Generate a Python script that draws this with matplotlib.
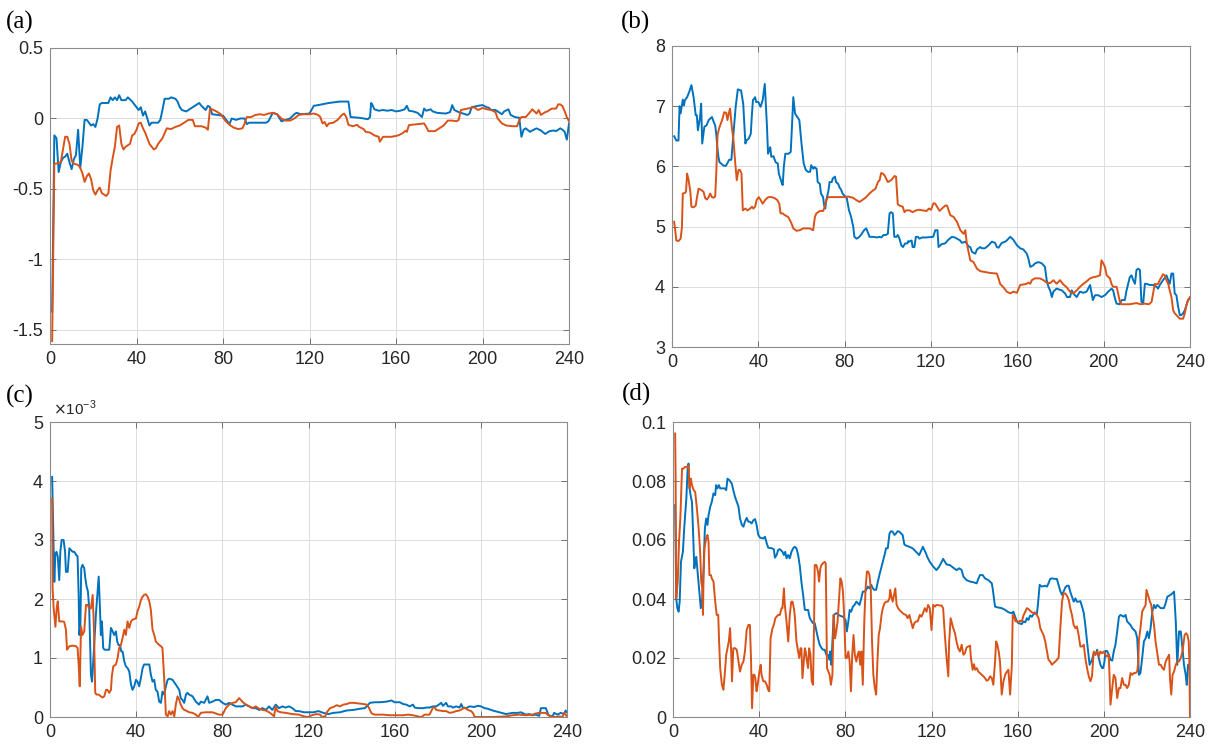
import matplotlib
matplotlib.use("Agg")
import matplotlib.pyplot as plt
from matplotlib.ticker import FuncFormatter

plt.rcParams["font.family"] = ["Liberation Sans", "DejaVu Sans"]
plt.rcParams["axes.unicode_minus"] = False

BLUE = "#0072BD"
ORANGE = "#D95319"

# (a) series, (x, value) points
a_blue = [(1, -1.37), (2, -0.12), (3, -0.14), (4, -0.38), (5, -0.31), (6, -0.28), (7, -0.27), (8, -0.25),
          (9, -0.31), (10, -0.36), (11, -0.29), (12, -0.26), (13, -0.08), (14, -0.35), (15, -0.2), (16, -0.01),
          (17, -0.01), (18, -0.03), (19, -0.05), (20, -0.04), (21, -0.06), (22, 0.0), (23, 0.10), (24, 0.11),
          (27, 0.11), (28, 0.15), (29, 0.13), (30, 0.15), (31, 0.13), (32, 0.165), (33, 0.13), (35, 0.13),
          (36, 0.15), (38, 0.12), (40, 0.08), (41, 0.06), (42, 0.08), (43, 0.02), (44, 0.05), (45, 0.0),
          (46, -0.05), (47, -0.03), (50, -0.03), (51, -0.01), (52, 0.06), (53, 0.14), (55, 0.14), (56, 0.15),
          (58, 0.14), (59, 0.12), (60, 0.08), (61, 0.06), (63, 0.05), (65, 0.07), (67, 0.09), (69, 0.11),
          (70, 0.09), (72, 0.06), (73, 0.09), (74, 0.08), (75, 0.03), (80, 0.02), (82, -0.02), (83, -0.04),
          (84, 0.0), (86, -0.01), (88, 0.0), (90, 0.0), (91, -0.04), (92, -0.03), (96, -0.03), (100, -0.03),
          (101, -0.02), (103, 0.04), (105, 0.03), (107, -0.02), (109, -0.01), (111, 0.0), (113, 0.03),
          (114, 0.04), (116, 0.03), (120, 0.035),
          (122, 0.09), (124, 0.095), (129, 0.11), (134, 0.12), (138, 0.12), (139, 0.01), (143, 0.005),
          (147, -0.005), (148, 0.01), (148.5, 0.11), (149, 0.10), (150, 0.065), (152, 0.055), (154, 0.06),
          (156, 0.055), (158, 0.06), (160, 0.05), (162, 0.055), (164, 0.065), (165, 0.09), (166, 0.055),
          (168, 0.05), (170, 0.04), (172, 0.01), (173, 0.07), (174, 0.055), (176, 0.065), (177, 0.05),
          (179, 0.04), (183, 0.035), (185, 0.045), (186, 0.095), (187, 0.06), (189, 0.045), (191, 0.035),
          (193, 0.025), (194, 0.035), (195, 0.08), (198, 0.09), (200, 0.095), (202, 0.08), (203, 0.075),
          (204, 0.06), (206, 0.06), (207, 0.05), (209, 0.03), (210, 0.05), (212, 0.065), (213, 0.025),
          (215, 0.01), (217, 0.005), (218, -0.13), (219, -0.08), (220, -0.07), (222, -0.095), (223, -0.085),
          (225, -0.07), (227, -0.085), (229, -0.11), (231, -0.09), (233, -0.085), (234, -0.09), (236, -0.07),
          (237, -0.08), (238, -0.095), (239, -0.15), (240, -0.035)]
a_orange = [(1, -1.58), (2, -0.32), (3, -0.32), (5, -0.31), (6, -0.22), (7, -0.13), (8, -0.13), (9, -0.18),
            (10, -0.30), (11, -0.32), (13, -0.33), (14, -0.35), (15, -0.39), (16, -0.45), (17, -0.41),
            (18, -0.39), (19, -0.43), (20, -0.51), (21, -0.54), (22, -0.51), (23, -0.49), (24, -0.53),
            (25, -0.54), (26, -0.55), (27, -0.53), (28, -0.37), (29, -0.28), (30, -0.2), (31, -0.06),
            (32, -0.05), (33, -0.18), (34, -0.22), (35, -0.2), (37, -0.18), (38, -0.12), (39, -0.11),
            (40, -0.08), (41, -0.035), (42, -0.03), (43, -0.07), (44, -0.1), (46, -0.18), (48, -0.22),
            (49, -0.21), (50, -0.18), (52, -0.14), (54, -0.07), (56, -0.075), (58, -0.06), (60, -0.05),
            (62, -0.03), (64, -0.01), (66, -0.01), (67, -0.055), (70, -0.055), (72, -0.065), (73, -0.08),
            (74, 0.07), (75, 0.065), (77, 0.05), (79, 0.03), (81, -0.015), (83, -0.045), (85, -0.065),
            (87, -0.075), (89, -0.07), (90, -0.035), (91, 0.01), (93, 0.01), (95, 0.025), (97, 0.03),
            (99, 0.025), (101, 0.035), (103, 0.04), (105, 0.03), (107, 0.0), (109, -0.015), (111, -0.015),
            (113, 0.0), (115, 0.025), (117, 0.03), (120, 0.03),
            (122, 0.035), (124, 0.025), (125, 0.01), (126, -0.035), (127, -0.025), (128, -0.055),
            (129, -0.035), (131, -0.03), (133, -0.01), (135, 0.025), (136, 0.035), (137, 0.01), (138, -0.045),
            (140, -0.055), (142, -0.045), (143, -0.06), (145, -0.075), (146, -0.095), (148, -0.1),
            (150, -0.12), (152, -0.13), (152.5, -0.165), (154, -0.13), (158, -0.13), (161, -0.12),
            (163, -0.105), (164.5, -0.087), (165, -0.095), (166, -0.047), (170, -0.04), (173, -0.035),
            (174, -0.06), (175, -0.09), (178, -0.09), (180, -0.07), (182, -0.05), (184, -0.015),
            (186, -0.015), (188, -0.02), (189, -0.01), (190, 0.06), (193, 0.07), (196, 0.08), (198, 0.06),
            (200, 0.075), (202, 0.065), (204, 0.06), (206, 0.045), (207, 0.0), (209, -0.035), (211, -0.05),
            (214, -0.055), (216, -0.055), (217, -0.01), (218, 0.01), (220, 0.01), (222, 0.045), (223, 0.065),
            (225, 0.035), (226, 0.06), (227, 0.025), (229, 0.045), (230, 0.05), (232, 0.07), (234, 0.07),
            (235, 0.1), (236, 0.1), (237, 0.087), (238, 0.05), (239, 0.01), (240, -0.02)]

# (b)
b_blue = [(1, 6.50), (2, 6.43), (3, 6.43), (3.5, 7.0), (4, 6.88), (5, 7.11), (5.5, 7.01), (6, 7.10), (7, 7.15),
          (8, 7.24), (9, 7.35), (10, 7.15), (11, 6.85), (11.5, 6.85), (12, 6.60), (13, 6.82), (13.5, 7.04),
          (14, 6.38), (15, 6.66), (16, 6.68), (17, 6.77), (18.5, 6.82), (19, 6.77), (20, 6.68), (20.5, 6.54),
          (21, 6.32), (21.5, 6.16), (22, 6.07), (24, 6.01), (25, 6.01), (26.5, 6.11), (27.5, 6.11),
          (28.5, 6.54), (29.5, 6.99), (30.5, 7.28), (32, 7.26), (33, 7.04), (33.5, 6.71), (34, 6.38),
          (34.5, 6.43), (35.5, 6.46), (36.5, 6.54), (37, 6.85), (37.5, 7.10), (38.5, 7.15), (39, 7.07),
          (40, 7.07), (41, 6.99), (41.5, 7.04), (42, 7.10), (43, 7.37), (44, 6.66), (44.5, 6.21),
          (45.5, 6.32), (46, 6.16), (47, 6.17), (48, 6.07), (49, 6.05), (49.5, 5.88), (51, 5.71),
          (51.3, 5.69), (51.8, 5.99), (52.5, 6.21), (54, 6.21), (55, 6.24), (55.5, 6.60), (56.2, 7.15),
          (57, 6.88), (57.5, 6.85), (59, 6.77), (60, 6.38), (61, 6.05), (62, 5.94), (63, 5.91), (64, 5.91),
          (64.5, 6.02), (65.5, 5.96), (66, 5.99), (67, 5.96), (67.5, 5.74), (68.5, 5.71), (69, 5.55),
          (70, 5.49), (70.5, 5.35), (71, 5.30), (71.5, 5.44), (72.5, 5.60), (73, 5.74), (74, 5.74),
          (74.5, 5.80), (75.5, 5.83), (76, 5.74), (77, 5.71), (77.5, 5.66), (78.5, 5.60), (79, 5.55),
          (80.5, 5.49), (81, 5.47), (82, 5.27), (83, 5.16), (84, 4.99), (84.5, 4.83), (85.5, 4.80),
          (86.5, 4.82), (87.5, 4.86), (89, 4.94), (90, 4.97), (91, 4.88), (91.5, 4.83), (93, 4.83),
          (95, 4.82), (96, 4.83), (97, 4.82), (98, 4.86), (99, 4.86), (100, 4.88), (100.8, 5.22),
          (101.5, 5.24), (102.3, 5.22), (103, 4.83), (104, 4.83), (104.6, 4.86), (105.4, 4.80),
          (106.2, 4.69), (107, 4.66), (108, 4.72), (109, 4.72), (109.5, 4.76), (110, 4.75), (111, 4.77),
          (111.5, 4.66), (112.3, 4.66), (113, 4.83), (114, 4.83), (114.6, 4.80),
          (116, 4.82), (118, 4.82), (121, 4.83), (122, 4.94), (123, 4.94), (123.5, 4.66), (125, 4.71),
          (126.5, 4.72), (128, 4.78), (129.7, 4.83), (131, 4.82), (133.5, 4.77), (134.3, 4.73), (136, 4.75),
          (137.4, 4.67), (138.2, 4.66), (139, 4.58), (140.5, 4.55), (141.3, 4.62), (142.8, 4.66),
          (143.6, 4.64), (145, 4.64), (146.7, 4.69), (148.2, 4.75), (149.7, 4.73), (150.5, 4.66),
          (151.3, 4.65), (152.8, 4.73), (154.4, 4.75), (155.1, 4.77), (156.7, 4.83), (158.2, 4.78),
          (159.8, 4.69), (161.3, 4.64), (162.8, 4.62), (164.4, 4.55), (165.1, 4.47), (166, 4.33),
          (167.5, 4.36), (168.2, 4.39), (169.8, 4.41), (171.3, 4.39), (172.1, 4.36), (172.8, 4.33),
          (173.6, 4.11), (174.4, 4.0), (175.2, 3.94), (176, 3.83), (176.7, 3.92), (178.2, 3.97),
          (180.6, 3.94), (182.1, 3.89), (183, 3.83), (184.4, 3.83), (185.2, 3.94), (186, 3.89),
          (186.7, 3.86), (187.5, 3.83), (189, 3.92), (190.6, 3.90), (192.1, 3.92), (193.7, 4.03),
          (194.4, 3.89), (195, 3.78), (196, 3.86), (197.5, 3.86), (199, 3.83), (200.6, 3.86), (202.1, 3.92),
          (203.7, 3.97), (204.4, 3.94), (205.2, 3.81), (206, 3.72), (207.5, 3.71), (208.3, 3.78),
          (209.8, 3.78), (210.6, 3.94), (212.1, 4.16), (212.9, 4.19), (213.7, 4.11), (214.5, 4.05),
          (215.2, 4.28), (216, 4.30), (216.8, 4.28), (217.5, 3.75), (218.3, 3.72), (219.1, 4.05),
          (219.8, 4.05), (221.4, 4.03), (222.9, 4.03), (224.5, 4.0), (225.2, 3.97), (226, 4.03),
          (227.5, 4.11), (229.1, 4.19), (229.9, 4.11), (230.6, 4.05), (231.4, 4.22), (232.2, 4.22),
          (232.9, 3.89), (233.7, 3.86), (234.5, 3.67), (235.3, 3.53), (236, 3.53), (236.8, 3.56),
          (237.6, 3.61), (238.3, 3.69), (239.1, 3.78), (240, 3.81)]
b_orange = [(1, 5.08), (1.5, 4.94), (2, 4.77), (3, 4.76), (4, 4.80), (4.6, 4.99), (5, 5.55), (6, 5.56),
            (6.5, 5.58), (7, 5.88), (7.7, 5.77), (8.5, 5.58), (9, 5.33), (10, 5.32), (11, 5.35), (11.5, 5.47),
            (12.3, 5.63), (13.5, 5.61), (14.6, 5.58), (15.4, 5.47), (16.2, 5.45), (17, 5.49), (17.7, 5.55),
            (18.5, 5.49), (19.2, 5.48), (20, 5.50), (20.5, 5.88), (20.8, 6.21), (21.1, 6.52), (21.8, 6.63),
            (22.6, 6.71), (23.4, 6.79), (24.2, 6.90), (25.1, 6.89), (25.7, 6.77), (26.3, 6.88), (26.9, 6.96),
            (27.7, 6.66), (28.5, 6.43), (29.2, 6.10), (30, 5.77), (30.8, 5.94), (31.5, 5.94), (32.2, 5.88),
            (32.8, 5.27), (34, 5.30), (35, 5.27), (36.2, 5.30), (37, 5.33), (37.7, 5.30), (38.5, 5.33),
            (39.2, 5.44), (40.2, 5.49), (41.1, 5.44), (42, 5.38), (43.1, 5.44), (44.6, 5.49), (46.2, 5.49),
            (47.7, 5.47), (48.8, 5.44), (49.7, 5.38), (50.3, 5.22), (51.2, 5.22), (52.3, 5.19), (53.8, 5.16),
            (54.6, 5.11), (55.4, 5.05), (56.2, 4.97), (57.7, 4.93), (59.2, 4.94), (60.8, 4.97), (62.3, 4.97),
            (63.8, 4.97), (65.4, 4.94), (66.2, 5.16), (66.9, 5.22), (68.5, 5.26), (70, 5.26), (70.8, 5.33),
            (71.5, 5.44), (72.3, 5.49), (75, 5.49), (80, 5.49), (81.5, 5.50), (83.8, 5.48), (85.4, 5.44),
            (86.9, 5.41), (88.5, 5.45), (90, 5.49), (91.5, 5.55), (93.1, 5.60), (94.3, 5.63), (95.4, 5.74),
            (96.2, 5.77), (96.9, 5.89), (97.7, 5.88), (98.5, 5.85), (100, 5.74), (101.5, 5.77), (103.1, 5.84),
            (103.8, 5.83), (104.6, 5.37), (105.4, 5.35), (106.9, 5.33), (107.7, 5.24), (108.5, 5.27),
            (110, 5.27), (111.5, 5.24), (113.1, 5.27), (114.6, 5.28),
            (116, 5.27), (118, 5.26), (119, 5.30), (120, 5.28), (121.2, 5.39), (122, 5.38), (122.8, 5.33),
            (124, 5.26), (125.1, 5.30), (126.6, 5.35), (127.4, 5.35), (128.2, 5.27), (128.9, 5.19),
            (130.5, 5.16), (132, 5.08), (133.6, 4.94), (135.1, 4.88), (135.9, 4.94), (136.6, 4.72),
            (137.4, 4.58), (138.2, 4.44), (139.7, 4.41), (141.3, 4.30), (142.8, 4.26), (144.3, 4.25),
            (147.4, 4.23), (150.5, 4.22), (151.3, 4.14), (152, 4.05), (153.6, 3.99), (155.1, 3.92),
            (156.7, 3.89), (158.2, 3.92), (159.8, 3.90), (161.3, 4.03), (162.8, 4.04), (164.4, 4.05),
            (165.1, 4.07), (166, 4.05), (166.7, 4.11), (168.1, 4.14), (170.5, 4.14), (172.1, 4.11),
            (173.6, 4.07), (175.2, 4.06), (176.7, 4.11), (178.2, 4.05), (179.8, 4.11), (180.6, 4.07),
            (181.3, 4.04), (182.9, 3.99), (184.4, 3.92), (185.9, 3.89), (187.5, 3.94), (189, 4.0),
            (190.6, 4.05), (192.1, 4.09), (193.7, 4.14), (195.2, 4.16), (196.7, 4.17), (198.3, 4.19),
            (199, 4.44), (199.8, 4.39), (200.6, 4.33), (201.4, 4.19), (202.9, 4.14), (203.7, 4.04),
            (204.4, 4.0), (206, 4.0), (206.7, 3.89), (207.5, 3.75), (208.3, 3.71), (212, 3.71), (215.2, 3.73),
            (217, 3.71), (219, 3.72), (221, 3.71), (222.2, 3.75), (222.9, 3.89), (223.7, 4.05), (224.5, 4.04),
            (225.2, 4.05), (226, 4.11), (226.8, 4.16), (227.5, 4.21), (228.3, 4.19), (229.1, 4.11),
            (229.9, 4.05), (230.6, 3.94), (231.4, 3.83), (232.2, 3.61), (232.9, 3.56), (233.7, 3.53),
            (235.3, 3.47), (236.8, 3.47), (237.6, 3.56), (238.3, 3.69), (239.1, 3.78), (240, 3.83)]

# (c), values in units of 1e-3
c_blue = [(1, 4.07), (2, 2.29), (2.5, 2.77), (3, 2.80), (3.6, 2.72), (4.3, 2.32), (4.8, 2.80), (5.4, 3.0),
          (6.3, 3.0), (7, 2.80), (7.4, 2.46), (8.2, 2.46), (9, 2.86), (10.5, 2.80), (11.3, 2.80), (12.1, 2.75),
          (12.8, 2.72), (13.3, 2.07), (13.6, 1.39), (14.1, 1.56), (14.5, 2.52), (15.1, 2.58), (15.9, 2.52),
          (16.4, 2.35), (17, 2.21), (17.6, 2.13), (18.2, 1.84), (19, 0.72), (19.5, 0.60), (19.9, 0.83),
          (20.6, 1.28), (21.3, 1.73), (22.1, 2.13), (22.6, 2.38), (23.2, 1.84), (23.6, 1.39), (24.1, 1.62),
          (24.7, 1.17), (25.3, 1.14), (26.3, 1.14), (27.5, 1.14), (28.3, 1.51), (29.1, 1.45), (29.8, 1.39),
          (30.6, 1.45), (31.2, 1.28), (31.8, 1.22), (32.5, 1.22), (33.1, 1.11), (33.7, 1.11), (34.5, 0.94),
          (35.2, 0.86), (36, 0.83), (36.8, 0.77), (37.6, 0.55), (38.3, 0.46), (39.1, 0.52), (39.9, 0.63),
          (40.6, 0.60), (41.4, 0.52), (42.2, 0.66), (43, 0.83), (43.7, 0.89), (45.3, 0.89), (46.1, 0.89),
          (46.8, 0.72), (47.6, 0.60), (48.4, 0.63), (49.1, 0.46), (49.9, 0.43), (50.7, 0.26), (51.5, 0.24),
          (52.2, 0.43), (53, 0.38), (53.8, 0.52), (54.6, 0.63), (55.3, 0.65), (56.9, 0.63), (58.4, 0.55),
          (60, 0.46), (60.7, 0.32), (61.5, 0.29), (62.3, 0.24), (63.1, 0.38), (63.8, 0.41), (64.6, 0.38),
          (66.2, 0.35), (67.7, 0.26), (69.2, 0.21), (70, 0.26), (71.6, 0.24), (73.1, 0.35), (73.9, 0.24),
          (75.4, 0.26), (77, 0.29), (78.5, 0.29), (80.1, 0.24), (81.6, 0.21), (83.2, 0.24), (84.7, 0.21),
          (86.2, 0.18), (89.3, 0.18), (90.9, 0.21), (92.4, 0.18), (94, 0.15), (95.5, 0.15), (97.1, 0.12),
          (98.6, 0.15), (100.2, 0.12), (101.7, 0.18), (103.2, 0.12), (104.8, 0.21), (106.3, 0.15),
          (107.9, 0.18), (109.4, 0.16), (111, 0.18), (112.5, 0.15), (114.1, 0.10), (115.6, 0.10),
          (117.9, 0.08), (120, 0.08),
          (122.3, 0.08), (124.6, 0.10), (126.9, 0.07), (129.2, 0.05), (131.6, 0.07), (134.6, 0.08),
          (137.7, 0.11), (140.8, 0.12), (143.9, 0.14), (146.2, 0.15), (147.7, 0.21), (148.5, 0.24),
          (150.8, 0.25), (153.1, 0.25), (156.2, 0.26), (158.5, 0.28), (160, 0.25), (162.4, 0.25),
          (163.9, 0.22), (165.4, 0.21), (167, 0.18), (168.5, 0.21), (169.3, 0.16), (170.8, 0.15),
          (173.2, 0.15), (174.7, 0.16), (176.2, 0.16), (177.8, 0.18), (179.3, 0.18), (180.9, 0.22),
          (181.6, 0.24), (182.4, 0.19), (183.9, 0.24), (184.7, 0.18), (186.3, 0.18), (187, 0.16),
          (188.6, 0.18), (190.1, 0.16), (190.9, 0.22), (191.6, 0.16), (193.2, 0.15), (194.7, 0.18),
          (197, 0.17), (198.6, 0.19), (200.1, 0.18), (201.7, 0.15), (203.2, 0.14), (205.5, 0.11),
          (208.6, 0.08), (211.7, 0.05), (214.8, 0.07), (217.1, 0.07), (218.6, 0.08), (220.9, 0.04),
          (222.5, 0.05), (224, 0.03), (225.5, 0.04), (227.1, 0.02), (227.9, 0.15), (230.2, 0.15),
          (231.4, 0.03), (233.3, 0.01), (234, 0.07), (235.6, 0.04), (237.1, 0.07), (238.6, 0.05),
          (239.4, 0.11), (240, 0.08)]
c_orange = [(1, 3.70), (1.2, 2.18), (1.7, 1.84), (2.5, 1.53), (3.1, 1.84), (3.6, 1.96), (4.3, 1.62), (5.9, 1.62),
            (6.6, 1.61), (7.4, 1.48), (7.9, 1.14), (9, 1.20), (10.5, 1.21), (12.1, 1.20), (12.8, 1.17),
            (13.3, 0.89), (13.8, 0.52), (14.4, 1.53), (15.1, 1.39), (15.9, 1.45), (16.7, 1.90), (17.5, 1.90),
            (18.2, 1.84), (19, 1.84), (19.8, 2.07), (20.4, 1.51), (21, 0.41), (21.6, 0.38), (22.6, 0.38),
            (23.6, 0.35), (24.4, 0.33), (25.2, 0.35), (26, 0.46), (26.7, 0.46), (27.5, 0.41), (28.3, 0.46),
            (28.7, 0.69), (29.4, 0.86), (30.6, 0.89), (31.4, 1.0), (32.1, 1.17), (32.9, 1.22), (33.7, 1.34),
            (34.5, 1.48), (35.2, 1.39), (36, 1.62), (36.8, 1.51), (37.6, 1.62), (38.3, 1.65), (39.9, 1.67),
            (40.6, 1.79), (41.4, 1.87), (42.2, 1.98), (43, 2.04), (43.7, 2.07), (44.5, 2.08), (45.3, 2.04),
            (46.1, 1.96), (46.8, 1.82), (47.6, 1.48), (48.4, 1.39), (49.1, 1.28), (49.9, 1.25), (50.7, 1.22),
            (51.5, 1.20), (52.2, 1.17), (53, 0.66), (53.8, 0.04), (54.6, 0.01), (55.3, 0.10), (56.1, 0.04),
            (56.9, 0.10), (57.7, 0.01), (58.4, 0.21), (59.2, 0.35), (60, 0.29), (60.7, 0.21), (61.5, 0.15),
            (62.3, 0.12), (63.1, 0.11), (64.6, 0.08), (66.2, 0.07), (67.7, 0.04), (68.8, 0.0), (70, 0.07),
            (72.3, 0.08), (75.4, 0.08), (78.5, 0.04), (80.1, 0.04), (81.6, 0.15), (83.2, 0.21), (84.7, 0.24),
            (86.2, 0.25), (87.8, 0.32), (89.3, 0.26), (90.9, 0.21), (92.4, 0.18), (94, 0.15), (95.5, 0.18),
            (97.1, 0.14), (98.6, 0.12), (100.2, 0.11), (101.7, 0.08), (103.2, 0.04), (104, 0.01), (104.8, 0.18),
            (105.6, 0.10), (107.1, 0.08), (109.4, 0.07), (112.5, 0.05), (115.6, 0.04), (117.9, 0.01), (120, 0.0),
            (121.5, 0.03), (123.9, 0.05), (125.4, 0.04), (126.2, 0.0), (126.9, 0.01), (127.7, 0.0),
            (128.5, 0.08), (130, 0.15), (130.8, 0.16), (131.6, 0.17), (133.1, 0.20), (134.6, 0.18),
            (136.2, 0.21), (137.7, 0.22), (139.3, 0.24), (140.8, 0.24), (143.1, 0.23), (145.4, 0.22),
            (147, 0.21), (147.7, 0.18), (148.5, 0.12), (149.3, 0.06), (150.8, 0.04), (154.7, 0.04),
            (157.7, 0.03), (160.8, 0.03), (163.9, 0.03), (166.2, 0.04), (168.5, 0.03), (170.8, 0.01),
            (172.4, 0.0), (173.9, 0.04), (176.2, 0.04), (177, 0.10), (177.8, 0.16), (178.6, 0.16),
            (179.3, 0.12), (180.9, 0.11), (182.4, 0.10), (183.9, 0.10), (185.5, 0.07), (187, 0.08),
            (188.6, 0.10), (190.1, 0.11), (191.6, 0.14), (192.4, 0.16), (194, 0.12), (195.5, 0.10),
            (196.3, 0.07), (197, 0.01), (197.8, 0.0), (200.1, 0.0), (205.5, 0.0), (211.7, 0.01), (214.8, 0.03),
            (217.8, 0.04), (220.9, 0.03), (224, 0.04), (225.5, 0.06), (227.1, 0.07), (230.2, 0.07),
            (230.9, 0.04), (232.5, 0.01), (234.8, 0.0), (236.3, 0.01), (237.9, 0.0), (238.7, 0.07),
            (239.4, 0.04), (240, 0.0)]

# (d)
d_blue = [(1, 0.0718), (1.5, 0.0402), (2, 0.0369), (2.6, 0.0357), (3.1, 0.0391), (3.7, 0.0526), (4.6, 0.0560),
          (5.2, 0.0639), (6.2, 0.0741), (6.8, 0.0842), (7.2, 0.0859), (7.7, 0.0775), (8.3, 0.0746),
          (8.8, 0.0729), (9.2, 0.0651), (9.9, 0.0504), (10.3, 0.0526), (10.8, 0.0543), (11.4, 0.0493),
          (11.9, 0.0448), (12.3, 0.0414), (12.9, 0.0369), (13.6, 0.0402), (14.2, 0.0504), (14.8, 0.0639),
          (15.4, 0.0673), (16, 0.0651), (16.5, 0.0684), (17.3, 0.0713), (18, 0.0729), (18.8, 0.0758),
          (19.6, 0.0752), (20, 0.0786), (20.6, 0.0775), (21.3, 0.0786), (21.9, 0.0775), (23.1, 0.0775),
          (24, 0.0775), (24.7, 0.0769), (25.3, 0.0808), (26.2, 0.0803), (27.3, 0.0791), (28, 0.0769),
          (28.8, 0.0746), (29.6, 0.0729), (30.4, 0.0713), (31.1, 0.0673), (32, 0.0651), (32.7, 0.0645),
          (33.4, 0.0662), (34.2, 0.0675), (35, 0.0662), (35.7, 0.0662), (36.5, 0.0656), (37.3, 0.0667),
          (38.1, 0.0671), (38.8, 0.0651), (39.6, 0.0617), (40.4, 0.0608), (41.9, 0.0605), (42.7, 0.0611),
          (43.5, 0.0589), (44.2, 0.0574), (45.8, 0.0572), (46.8, 0.0569), (47.3, 0.0540), (48.1, 0.0549),
          (48.8, 0.0566), (49.6, 0.0569), (50.8, 0.0560), (51.5, 0.0549), (52.1, 0.0560), (52.7, 0.0538),
          (53.5, 0.0549), (54.2, 0.0538), (55, 0.0560), (55.8, 0.0572), (56.5, 0.0577), (57.3, 0.0572),
          (58.1, 0.0549), (58.9, 0.0510), (59.6, 0.0459), (60.4, 0.0414), (61.2, 0.0363), (61.9, 0.0363),
          (62.7, 0.0363), (63.5, 0.0335), (64.4, 0.0324), (65, 0.0318), (65.8, 0.0318), (66.6, 0.0290),
          (67.3, 0.0267), (68.1, 0.0245), (68.9, 0.0234), (69.6, 0.0228), (70.4, 0.0228), (71.2, 0.0211),
          (72, 0.0211), (72.7, 0.0194), (73, 0.0222), (73.5, 0.0177), (74, 0.0256), (74.6, 0.0346),
          (75.8, 0.0352), (76.6, 0.0348), (77.3, 0.0344), (78.9, 0.0340), (80.1, 0.0329), (80.7, 0.0290),
          (81.4, 0.0324), (82, 0.0363), (82.7, 0.0357), (83.5, 0.0374), (84.3, 0.0380), (85.1, 0.0391),
          (85.8, 0.0386), (86.6, 0.0380), (87.4, 0.0402), (88.1, 0.0425), (88.9, 0.0425), (89.7, 0.0431),
          (90.4, 0.0442), (91.2, 0.0436), (92, 0.0448), (92.8, 0.0436), (93.5, 0.0431), (94.3, 0.0431),
          (95.1, 0.0459), (95.8, 0.0481), (96.6, 0.0504), (97.4, 0.0526), (98.2, 0.0549), (98.9, 0.0572),
          (99.7, 0.0572), (100.5, 0.0622), (101.2, 0.0630), (102, 0.0628), (102.8, 0.0617), (103.5, 0.0622),
          (104.3, 0.0630), (105.1, 0.0628), (105.9, 0.0622), (106.6, 0.0617), (107.4, 0.0585),
          (108.2, 0.0581), (109.7, 0.0577), (111.2, 0.0572), (112.8, 0.0560), (114.3, 0.0549),
          (116, 0.0577), (117.4, 0.0555), (118, 0.0543), (119.2, 0.0526), (120.8, 0.0510), (122.3, 0.0498),
          (123.6, 0.0510), (124.7, 0.0526), (125.4, 0.0536), (127, 0.0517), (128.5, 0.0515), (130.1, 0.0506),
          (131.6, 0.0498), (132.9, 0.0504), (134, 0.0498), (134.8, 0.0476), (136.3, 0.0464), (137.9, 0.0459),
          (139.4, 0.0457), (141, 0.0453), (141.7, 0.0468), (142.5, 0.0481), (143.8, 0.0481), (144.8, 0.0470),
          (146.4, 0.0464), (148, 0.0453), (148.4, 0.0436), (149.5, 0.0374), (151.1, 0.0371), (152.6, 0.0369),
          (154.2, 0.0363), (155.7, 0.0355), (157.3, 0.0352), (158, 0.0357), (158.8, 0.0340), (159.6, 0.0324),
          (160.4, 0.0318), (161.9, 0.0315), (162.7, 0.0324), (163.5, 0.0321), (164.3, 0.0335), (165, 0.0329),
          (165.8, 0.0344), (166.6, 0.0340), (167.7, 0.0352), (168.9, 0.0348), (169.4, 0.0380), (170.2, 0.0448),
          (171.2, 0.0442), (172.8, 0.0445), (173.6, 0.0442), (174.3, 0.0453), (175.1, 0.0468), (175.9, 0.0470),
          (177.5, 0.0468), (178.2, 0.0468), (179, 0.0448), (179.8, 0.0427), (180.6, 0.0414), (181.3, 0.0425),
          (182.1, 0.0439), (182.9, 0.0445), (183.7, 0.0445), (184.4, 0.0425), (185.2, 0.0408), (186, 0.0391),
          (186.8, 0.0402), (187.5, 0.0391), (188.3, 0.0391), (189.1, 0.0393), (189.9, 0.0374), (190.7, 0.0352),
          (191.4, 0.0312), (192.2, 0.0256), (193, 0.0205), (193.4, 0.0177), (194.5, 0.0194), (195.3, 0.0216),
          (196.1, 0.0211), (196.9, 0.0228), (197.6, 0.0202), (198.4, 0.0177), (199.2, 0.0166), (199.7, 0.0166),
          (200.3, 0.0188), (200.7, 0.0224), (201.5, 0.0224), (202.3, 0.0211), (203.1, 0.0194), (203.9, 0.0191),
          (204.6, 0.0222), (205.4, 0.0245), (206.2, 0.0290), (207, 0.0340), (207.7, 0.0346), (209.3, 0.0340),
          (210.1, 0.0346), (210.8, 0.0324), (211.6, 0.0318), (212.4, 0.0312), (213.2, 0.0301), (214.7, 0.0290),
          (215.5, 0.0267), (216.3, 0.0143), (217, 0.0149), (217.8, 0.0200), (218.6, 0.0256), (219.4, 0.0267),
          (220.2, 0.0290), (220.9, 0.0267), (221.7, 0.0301), (222.5, 0.0357), (223.3, 0.0380), (224, 0.0369),
          (224.8, 0.0380), (226.4, 0.0369), (227.9, 0.0369), (228.7, 0.0386), (229.5, 0.0408), (231, 0.0414),
          (231.8, 0.0419), (232.6, 0.0425), (233.4, 0.0324), (234.1, 0.0177), (234.9, 0.0290), (235.7, 0.0290),
          (236.5, 0.0234), (237.2, 0.0177), (238, 0.0143), (238.5, 0.0109), (239.1, 0.0177), (239.6, 0.0166),
          (240, 0.0188)]
d_orange = [(1, 0.0961), (1.2, 0.0820), (1.4, 0.0526), (1.5, 0.0402), (2.2, 0.0459), (2.8, 0.0594),
            (3.4, 0.0673), (4.2, 0.0842), (4.9, 0.0842), (5.7, 0.0848), (6.5, 0.0848), (7.2, 0.0853),
            (7.7, 0.0775), (8.3, 0.0808), (8.8, 0.0786), (9.6, 0.0769), (10.3, 0.0763), (11.1, 0.0707),
            (11.9, 0.0639), (12.6, 0.0560), (13.1, 0.0459), (13.6, 0.0436), (13.9, 0.0346), (14.2, 0.0481),
            (14.6, 0.0572), (15.4, 0.0605), (16, 0.0617), (16.5, 0.0594), (16.9, 0.0481), (17.6, 0.0481),
            (18, 0.0470), (18.8, 0.0459), (19.6, 0.0391), (20.3, 0.0346), (21, 0.0346), (21.4, 0.0256),
            (21.9, 0.0166), (22.7, 0.0109), (23.4, 0.0092), (24, 0.0143), (24.7, 0.0211), (25.3, 0.0233),
            (25.9, 0.0256), (26.5, 0.0301), (27, 0.0222), (27.4, 0.0121), (28, 0.0233), (28.8, 0.0233),
            (29.6, 0.0228), (30.4, 0.0188), (31.1, 0.0154), (31.9, 0.0177), (32.7, 0.0188), (33.4, 0.0222),
            (34.2, 0.0295), (35, 0.0312), (35.7, 0.0312), (36.2, 0.0200), (36.7, 0.0030), (37.3, 0.0143),
            (37.8, 0.0143), (38.2, 0.0132), (38.8, 0.0087), (39.3, 0.0109), (40.1, 0.0154), (40.7, 0.0177),
            (41.1, 0.0143), (41.9, 0.0121), (42.7, 0.0121), (43.5, 0.0109), (44.2, 0.0092), (44.7, 0.0087),
            (45.3, 0.0267), (46.2, 0.0301), (46.8, 0.0312), (47.5, 0.0335), (48.1, 0.0340), (48.8, 0.0346),
            (49.6, 0.0346), (50.4, 0.0369), (50.8, 0.0369), (51.5, 0.0436), (51.9, 0.0380), (52.7, 0.0324),
            (53.5, 0.0256), (54.2, 0.0346), (54.9, 0.0391), (55.5, 0.0391), (56.1, 0.0369), (56.5, 0.0346),
            (57.3, 0.0256), (58.1, 0.0222), (58.6, 0.0200), (59.2, 0.0233), (59.6, 0.0233), (60.1, 0.0132),
            (60.7, 0.0188), (61.2, 0.0233), (61.6, 0.0222), (62.2, 0.0188), (62.7, 0.0166), (63.2, 0.0233),
            (63.8, 0.0211), (64.4, 0.0121), (65, 0.0109), (65.5, 0.0324), (65.8, 0.0515), (66.6, 0.0515),
            (67.3, 0.0493), (67.8, 0.0459), (68.4, 0.0504), (68.9, 0.0515), (69.6, 0.0521), (70.4, 0.0526),
            (70.9, 0.0521), (71.5, 0.0166), (72.1, 0.0154), (72.7, 0.0143), (73.3, 0.0109), (74, 0.0143),
            (74.6, 0.0346), (75.2, 0.0267), (75.8, 0.0290), (76.4, 0.0324), (77, 0.0391), (77.7, 0.0470),
            (78.3, 0.0459), (78.9, 0.0425), (79.5, 0.0335), (80.1, 0.0200), (80.7, 0.0200), (81.4, 0.0222),
            (82, 0.0188), (82.6, 0.0087), (83.2, 0.0211), (83.8, 0.0278), (84.4, 0.0211), (85.1, 0.0188),
            (85.7, 0.0211), (86.3, 0.0222), (86.9, 0.0177), (87.5, 0.0222), (88.1, 0.0109), (88.8, 0.0324),
            (89.4, 0.0436), (90, 0.0493), (90.6, 0.0493), (91.2, 0.0481), (91.8, 0.0436), (92.4, 0.0256),
            (93, 0.0143), (93.7, 0.0098), (94.3, 0.0076), (94.9, 0.0188), (95.5, 0.0278), (96.1, 0.0301),
            (96.8, 0.0346), (97.4, 0.0369), (98.2, 0.0386), (98.9, 0.0391), (99.7, 0.0391), (100.5, 0.0402),
            (100.8, 0.0431), (101.4, 0.0408), (102, 0.0391), (102.6, 0.0414), (103.2, 0.0436), (103.8, 0.0380),
            (104.5, 0.0369), (105.1, 0.0363), (105.9, 0.0357), (106.6, 0.0352), (107.4, 0.0348),
            (108.2, 0.0346), (108.9, 0.0335), (109.7, 0.0346), (110.5, 0.0324), (111.3, 0.0301), (112, 0.0318),
            (112.8, 0.0324), (113.6, 0.0324),
            (114.6, 0.0346), (115.3, 0.0340), (116.1, 0.0352), (116.9, 0.0369), (117.7, 0.0357), (118.4, 0.0380),
            (119.2, 0.0369), (120, 0.0295), (120.8, 0.0380), (121.6, 0.0374), (122.3, 0.0380), (123.9, 0.0378),
            (124.7, 0.0378), (125.4, 0.0369), (126.2, 0.0278), (127, 0.0200), (127.8, 0.0138), (128.2, 0.0256),
            (128.9, 0.0335), (129.5, 0.0318), (130.1, 0.0301), (130.9, 0.0284), (131.6, 0.0256), (132.4, 0.0233),
            (133.2, 0.0222), (134, 0.0245), (134.8, 0.0211), (135.5, 0.0216), (136.3, 0.0236), (137.1, 0.0239),
            (137.9, 0.0242), (138.3, 0.0200), (139.1, 0.0160), (139.7, 0.0179), (140.3, 0.0160), (141, 0.0166),
            (141.7, 0.0154), (142.5, 0.0149), (143.3, 0.0143), (144.1, 0.0138), (144.8, 0.0132), (145.6, 0.0123),
            (146.4, 0.0126), (147.2, 0.0138), (148, 0.0132), (148.7, 0.0109), (149.5, 0.0188), (150, 0.0256),
            (150.6, 0.0245), (151.2, 0.0222), (151.8, 0.0188), (152.6, 0.0076), (153.4, 0.0121), (154.2, 0.0143),
            (155, 0.0154), (155.7, 0.0160), (156.5, 0.0076), (157.3, 0.0177), (157.7, 0.0346), (158.4, 0.0340),
            (159, 0.0324), (159.6, 0.0326), (160.4, 0.0321), (161.1, 0.0326), (161.9, 0.0324), (162.7, 0.0344),
            (163.5, 0.0357), (164.3, 0.0369), (165, 0.0366), (165.8, 0.0360), (166.6, 0.0355), (167.4, 0.0352),
            (168.1, 0.0355), (168.9, 0.0346), (169.7, 0.0335), (170.5, 0.0301), (171.2, 0.0290), (172, 0.0278),
            (172.8, 0.0256), (173.6, 0.0222), (174.3, 0.0194), (175.1, 0.0188), (175.9, 0.0177), (176.7, 0.0183),
            (177.5, 0.0188), (178.2, 0.0194), (179, 0.0200), (179.8, 0.0301), (180.6, 0.0391), (181.3, 0.0419),
            (182.1, 0.0419), (182.9, 0.0411), (183.7, 0.0397), (184.4, 0.0369), (185.2, 0.0346), (186, 0.0312),
            (186.8, 0.0301), (187.5, 0.0307), (188.3, 0.0278), (189.1, 0.0239), (189.9, 0.0239), (190.7, 0.0245),
            (191.4, 0.0200), (192.2, 0.0166), (193, 0.0138), (193.8, 0.0121), (194.5, 0.0138), (195.3, 0.0222),
            (196.1, 0.0211), (196.9, 0.0222), (197.6, 0.0205), (198.4, 0.0222), (199.2, 0.0216), (200, 0.0222),
            (200.7, 0.0211), (201.5, 0.0205), (202.3, 0.0211), (203.1, 0.0042), (203.9, 0.0098), (204.6, 0.0143),
            (205.4, 0.0132), (206.2, 0.0064), (207, 0.0098), (207.7, 0.0098), (208.5, 0.0132), (209.3, 0.0109),
            (210.1, 0.0109), (210.8, 0.0098), (211.6, 0.0109), (212.4, 0.0149), (213.2, 0.0143), (213.9, 0.0149),
            (214.7, 0.0149), (215.5, 0.0154), (216, 0.0188), (216.3, 0.0262), (217, 0.0301), (217.8, 0.0357),
            (218.6, 0.0369), (219.4, 0.0380), (219.8, 0.0431), (220.5, 0.0414), (221.4, 0.0391), (222, 0.0380),
            (222.6, 0.0346), (223.3, 0.0312), (224, 0.0256), (224.8, 0.0216), (225.6, 0.0177), (226.4, 0.0177),
            (227.2, 0.0166), (227.9, 0.0160), (228.7, 0.0188), (229.5, 0.0200), (230.3, 0.0211), (230.7, 0.0132),
            (231.3, 0.0076), (231.9, 0.0143), (232.6, 0.0154), (233.4, 0.0177), (234.1, 0.0188), (234.9, 0.0188),
            (235.7, 0.0200), (236.5, 0.0222), (237.5, 0.0278), (238.2, 0.0284), (238.8, 0.0278), (239.4, 0.0256),
            (239.7, 0.0188), (240, 0.0)]

panel_labels = ["(a)", "(b)", "(c)", "(d)"]
x_ticks = [0, 40, 80, 120, 160, 200, 240]
y_limits = [(-1.6, 0.5), (3, 8), (0, 5), (0, 0.1)]
y_ticks = [[-1.5, -1, -0.5, 0, 0.5], [3, 4, 5, 6, 7, 8], [0, 1, 2, 3, 4, 5],
           [0, 0.02, 0.04, 0.06, 0.08, 0.1]]

W, H = 1223, 749
fig = plt.figure(figsize=(W / 100, H / 100), dpi=100)

# axes boxes in pixels: left, top, right, bottom
boxes = [(50, 48, 569, 344), (672, 46, 1190, 347), (50, 422, 567, 717), (673, 422, 1190, 717)]
label_pos = [(6, 22), (621, 22), (6, 396), (622, 394)]
series = [(a_blue, a_orange), (b_blue, b_orange), (c_blue, c_orange), (d_blue, d_orange)]

fmt = FuncFormatter(lambda v, p: "%g" % round(v, 6))

for i, (l, t, r, b) in enumerate(boxes):
    ax = fig.add_axes([l / W, 1 - b / H, (r - l) / W, (b - t) / H])
    blue, orange = series[i]
    ax.plot([p[0] for p in blue], [p[1] for p in blue], color=BLUE, lw=1.4, zorder=3)
    ax.plot([p[0] for p in orange], [p[1] for p in orange], color=ORANGE, lw=1.4, zorder=3)
    ax.set_xlim(0, 240)
    ax.set_ylim(*y_limits[i])
    ax.set_xticks(x_ticks)
    ax.set_yticks(y_ticks[i])
    ax.yaxis.set_major_formatter(fmt)
    ax.grid(True, color="#dcdcdc", lw=0.7)
    ax.set_axisbelow(True)
    ax.tick_params(direction="in", length=4, width=0.7, colors="#707070", labelcolor="#262626",
                   labelsize=13, top=True, right=True, pad=5)
    for s in ax.spines.values():
        s.set_color("#8c8c8c")
        s.set_linewidth(0.8)
    lx, ly = label_pos[i]
    fig.text(lx / W, 1 - ly / H, panel_labels[i], fontsize=18, va="center", ha="left",
             family=["Liberation Serif", "DejaVu Serif"])
    if i == 2:
        ax.text(0.005, 1.012, r"$\times$10$^{\mathregular{-3}}$", transform=ax.transAxes,
                fontsize=11, color="#262626", va="bottom", ha="left")

fig.savefig("out.png", dpi=100)
